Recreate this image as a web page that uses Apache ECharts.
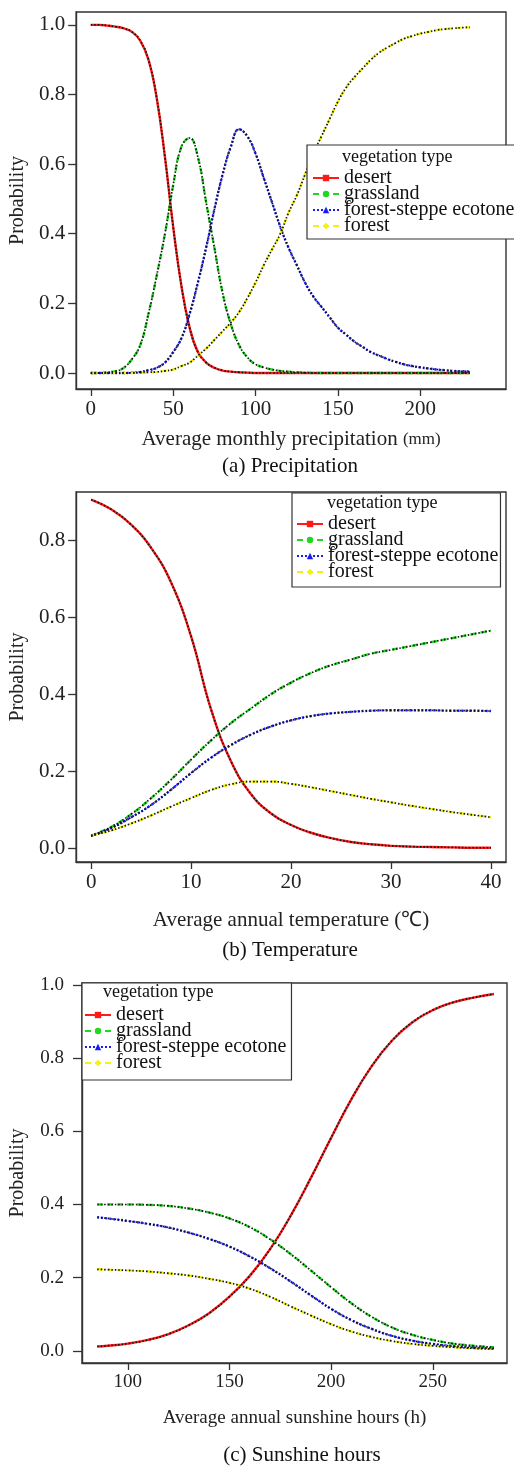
<!DOCTYPE html>
<html>
<head>
<meta charset="utf-8">
<script src="https://cdn.jsdelivr.net/npm/echarts@6/dist/echarts.min.js"></script>
<style>
html,body{margin:0;padding:0;background:#fff;}
#c{width:514px;height:1470px;}
</style>
</head>
<body>
<div id="c"></div>
<script>
// ---------- Data ----------
const seriesNames = ['desert', 'grassland', 'forest-steppe ecotone', 'forest'];

// (a) Precipitation
const precipX        = [0, 5, 10, 15, 20, 25, 30, 35, 40, 45, 50, 55, 60, 65, 70, 75, 80, 85, 90, 95, 100, 105, 110, 115, 120, 125, 130, 135, 140, 145, 150, 155, 160, 165, 170, 175, 180, 185, 190, 195, 200, 205, 210, 215, 220, 225, 230];
const precipDesert   = [1.0, 1.0, 0.998, 0.995, 0.99, 0.98, 0.955, 0.90, 0.79, 0.62, 0.42, 0.25, 0.13, 0.06, 0.03, 0.015, 0.007, 0.004, 0.002, 0.001, 0, 0, 0, 0, 0, 0, 0, 0, 0, 0, 0, 0, 0, 0, 0, 0, 0, 0, 0, 0, 0, 0, 0, 0, 0, 0, 0];
const precipGrass    = [0, 0, 0.002, 0.005, 0.015, 0.04, 0.08, 0.17, 0.28, 0.40, 0.54, 0.65, 0.675, 0.62, 0.49, 0.36, 0.23, 0.14, 0.08, 0.045, 0.025, 0.016, 0.01, 0.006, 0.004, 0.002, 0.001, 0, 0, 0, 0, 0, 0, 0, 0, 0, 0, 0, 0, 0, 0, 0, 0, 0, 0, 0, 0];
const precipEcotone  = [0, 0, 0, 0, 0, 0.001, 0.003, 0.008, 0.015, 0.03, 0.06, 0.10, 0.17, 0.26, 0.36, 0.47, 0.57, 0.65, 0.70, 0.68, 0.63, 0.56, 0.49, 0.42, 0.36, 0.31, 0.26, 0.22, 0.19, 0.16, 0.13, 0.11, 0.09, 0.075, 0.06, 0.05, 0.04, 0.032, 0.025, 0.02, 0.016, 0.013, 0.01, 0.008, 0.006, 0.005, 0.004];
const precipForest   = [0, 0, 0, 0, 0, 0, 0.001, 0.002, 0.003, 0.006, 0.01, 0.02, 0.03, 0.05, 0.07, 0.095, 0.12, 0.145, 0.175, 0.215, 0.26, 0.31, 0.355, 0.40, 0.46, 0.51, 0.57, 0.63, 0.68, 0.73, 0.78, 0.82, 0.85, 0.875, 0.90, 0.92, 0.935, 0.948, 0.96, 0.968, 0.975, 0.98, 0.985, 0.988, 0.99, 0.992, 0.993];
const precipXTicks   = [0, 50, 100, 150, 200];
const precipYTicks   = [0, 0.2, 0.4, 0.6, 0.8, 1.0];

// (b) Temperature
const tempX          = [0, 2, 4, 6, 8, 10, 12, 14, 16, 18, 20, 22, 24, 26, 28, 30, 32, 34, 36, 38, 40];
const tempDesert     = [0.905, 0.88, 0.84, 0.78, 0.69, 0.55, 0.36, 0.225, 0.14, 0.09, 0.06, 0.04, 0.026, 0.016, 0.01, 0.006, 0.004, 0.003, 0.002, 0.001, 0.001];
const tempGrass      = [0.032, 0.055, 0.088, 0.13, 0.178, 0.23, 0.28, 0.325, 0.363, 0.40, 0.43, 0.455, 0.475, 0.49, 0.505, 0.515, 0.525, 0.535, 0.545, 0.555, 0.565];
const tempEcotone    = [0.032, 0.052, 0.08, 0.112, 0.152, 0.195, 0.235, 0.268, 0.295, 0.316, 0.332, 0.343, 0.35, 0.354, 0.357, 0.358, 0.358, 0.358, 0.357, 0.357, 0.356];
const tempForest     = [0.032, 0.046, 0.064, 0.085, 0.108, 0.13, 0.151, 0.166, 0.173, 0.173, 0.167, 0.158, 0.148, 0.138, 0.128, 0.119, 0.11, 0.102, 0.094, 0.087, 0.08];
const tempXTicks     = [0, 10, 20, 30, 40];
const tempYTicks     = [0, 0.2, 0.4, 0.6, 0.8];

// (c) Sunshine hours
const sunX           = [85, 90, 100, 110, 120, 130, 140, 150, 160, 170, 180, 190, 200, 210, 220, 230, 240, 250, 260, 270, 280];
const sunDesert      = [0.012, 0.014, 0.02, 0.03, 0.046, 0.07, 0.103, 0.148, 0.205, 0.278, 0.368, 0.472, 0.582, 0.688, 0.778, 0.848, 0.898, 0.931, 0.952, 0.965, 0.975];
const sunGrass       = [0.40, 0.40, 0.40, 0.399, 0.396, 0.389, 0.378, 0.362, 0.338, 0.305, 0.265, 0.22, 0.174, 0.13, 0.093, 0.064, 0.044, 0.03, 0.02, 0.014, 0.01];
const sunEcotone     = [0.365, 0.362, 0.355, 0.347, 0.337, 0.323, 0.306, 0.285, 0.258, 0.226, 0.19, 0.152, 0.115, 0.084, 0.06, 0.041, 0.028, 0.019, 0.013, 0.009, 0.007];
const sunForest      = [0.223, 0.222, 0.22, 0.217, 0.212, 0.206, 0.197, 0.186, 0.17, 0.148, 0.122, 0.097, 0.073, 0.053, 0.038, 0.027, 0.019, 0.014, 0.01, 0.007, 0.005];
const sunXTicks      = [100, 150, 200, 250];
const sunYTicks      = [0, 0.2, 0.4, 0.6, 0.8, 1.0];

// ---------- Styling ----------
const FONT = '"Liberation Serif", "Times New Roman", serif';
const colors = ['#ff1a1a', '#1fd81f', '#1a1aff', '#f2f20a'];
const lineTypes = ['solid', [6, 4], [2, 2], [6, 4]];
const symbols = ['rect', 'circle', 'triangle', 'diamond'];

function pairs(xs, ys) { return xs.map((x, i) => [x, ys[i]]); }

const panels = [
  { x: precipX, ys: [precipDesert, precipGrass, precipEcotone, precipForest] },
  { x: tempX,   ys: [tempDesert, tempGrass, tempEcotone, tempForest] },
  { x: sunX,    ys: [sunDesert, sunGrass, sunEcotone, sunForest] }
];

const series = [];
panels.forEach((p, gi) => {
  p.ys.forEach((arr, si) => {
    const data = pairs(p.x, arr);
    series.push({
      type: 'line', name: seriesNames[si], xAxisIndex: gi, yAxisIndex: gi,
      data: data, smooth: 0.45,
      symbol: symbols[si], symbolSize: 7, showSymbol: false,
      itemStyle: { color: colors[si] },
      lineStyle: { color: colors[si], width: 2.4, type: lineTypes[si] },
      silent: true, animation: false, z: 2
    });
    series.push({
      type: 'line', name: seriesNames[si] + ' pts', xAxisIndex: gi, yAxisIndex: gi,
      data: data, smooth: 0.45,
      symbol: 'none',
      lineStyle: { color: '#111', width: 1.7, type: [1.5, 2] },
      silent: true, animation: false, z: 3
    });
  });
});

const grids = [
  { left: 76, top: 12, width: 430, height: 377 },
  { left: 76, top: 492, width: 430, height: 370 },
  { left: 82, top: 983, width: 425, height: 380 }
];
const xRanges = [[-8.9, 252], [-1.5, 41.5], [77.5, 286.5]];
const yRanges = [[-0.046, 1.037], [-0.036, 0.925], [-0.033, 1.005]];
const xTicks = [precipXTicks, tempXTicks, sunXTicks];
const yTicks = [precipYTicks, tempYTicks, sunYTicks];
const xNames = [
  'Average monthly precipitation {s|(mm)}',
  'Average annual temperature (℃)',
  'Average annual sunshine hours (h)'
];
const xNameSize = [21, 21, 19];
const xNameGap = [40, 48, 46];
const yNameGap = [48, 48, 54];
const tickSize = [21, 21, 19];
const yLabelMargin = [11, 11, 18];
const yTickLen = [8, 8, 9];

const xAxes = grids.map((g, i) => ({
  type: 'value', gridIndex: i, min: xRanges[i][0], max: xRanges[i][1],
  axisLine: { show: true, onZero: false, lineStyle: { color: '#333', width: 1.4 } },
  axisTick: { show: true, inside: false, length: 7, customValues: xTicks[i], lineStyle: { color: '#333', width: 1.3 } },
  axisLabel: { customValues: xTicks[i], margin: 10, color: '#222', fontFamily: FONT, fontSize: tickSize[i] },
  splitLine: { show: false },
  name: xNames[i], nameLocation: 'middle', nameGap: xNameGap[i],
  nameTextStyle: { color: '#222', fontFamily: FONT, fontSize: xNameSize[i], rich: { s: { fontFamily: FONT, fontSize: 17, color: '#222' } } }
}));
const yAxes = grids.map((g, i) => ({
  type: 'value', gridIndex: i, min: yRanges[i][0], max: yRanges[i][1],
  axisLine: { show: true, onZero: false, lineStyle: { color: '#333', width: 1.4 } },
  axisTick: { show: true, inside: false, length: yTickLen[i], customValues: yTicks[i], lineStyle: { color: '#333', width: 1.3 } },
  axisLabel: { customValues: yTicks[i], margin: yLabelMargin[i], color: '#222', fontFamily: FONT, fontSize: tickSize[i], formatter: v => v.toFixed(1) },
  splitLine: { show: false },
  name: 'Probability', nameLocation: 'middle', nameGap: yNameGap[i],
  nameTextStyle: { color: '#222', fontFamily: FONT, fontSize: 20 }
}));

const legendBase = {
  orient: 'vertical', data: seriesNames, itemWidth: 26, itemHeight: 8, itemGap: -4.0,
  backgroundColor: '#fff', borderColor: '#333', borderWidth: 1.2, borderRadius: 0,
  textStyle: { fontFamily: FONT, fontSize: 20, color: '#111' },
  selectedMode: false, z: 10
};
const legends = [
  Object.assign({}, legendBase, { left: 307, top: 145, padding: [23, 1, 3, 5] }),
  Object.assign({}, legendBase, { left: 292, top: 493, padding: [21, 2, 5, 4] }),
  Object.assign({}, legendBase, { left: 82, top: 983, padding: [22, 5, 7, 2] })
];

const graphic = [
  { type: 'text', left: 342, top: 148, z: 20, style: { text: 'vegetation type', font: '18px ' + FONT, fill: '#111' } },
  { type: 'text', left: 327, top: 494, z: 20, style: { text: 'vegetation type', font: '18px ' + FONT, fill: '#111' } },
  { type: 'text', left: 103, top: 983, z: 20, style: { text: 'vegetation type', font: '18px ' + FONT, fill: '#111' } },
  { type: 'text', x: 290, y: 466, z: 20, style: { text: '(a) Precipitation', font: '21px ' + FONT, fill: '#111', textAlign: 'center', textVerticalAlign: 'middle' } },
  { type: 'text', x: 290, y: 950, z: 20, style: { text: '(b) Temperature', font: '21px ' + FONT, fill: '#111', textAlign: 'center', textVerticalAlign: 'middle' } },
  { type: 'text', x: 302, y: 1455, z: 20, style: { text: '(c) Sunshine hours', font: '21px ' + FONT, fill: '#111', textAlign: 'center', textVerticalAlign: 'middle' } }
];

const option = {
  animation: false,
  backgroundColor: '#fff',
  grid: grids.map(g => Object.assign({ show: true, borderColor: '#333', borderWidth: 1.4, backgroundColor: 'transparent', containLabel: false }, g)),
  xAxis: xAxes,
  yAxis: yAxes,
  legend: legends,
  graphic: graphic,
  series: series
};

const chart = echarts.init(document.getElementById('c'), null, { renderer: 'canvas' });
chart.setOption(option);
</script>
</body>
</html>
